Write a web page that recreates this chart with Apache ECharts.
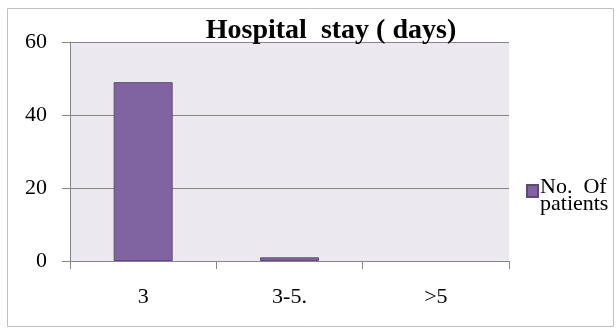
<!DOCTYPE html>
<html>
<head>
<meta charset="utf-8">
<script src="https://cdn.jsdelivr.net/npm/echarts@6/dist/echarts.min.js"></script>
<style>
  html, body { margin: 0; padding: 0; background: #fff; }
  #chart { width: 616px; height: 329px; }
</style>
</head>
<body>
<div id="chart"></div>
<script>
// Length of hospital stay, grouped in days
var categories = ['3', '3-5.', '>5'];
var patients = [49, 1, 0];
var seriesName = 'No. Of patients';
var yTicks = [0, 20, 40, 60];

var chart = echarts.init(document.getElementById('chart'), null, { renderer: 'canvas' });
var serif = '"Liberation Serif", "DejaVu Serif", serif';

// empty categories get no outline so nothing is drawn for them
var barData = patients.map(function (v) {
  return { value: v, itemStyle: v === 0 ? { borderWidth: 0 } : {} };
});

chart.setOption({
  backgroundColor: '#ffffff',
  animation: false,
  title: {
    text: 'Hospital  stay ( days)',
    left: 326,
    textAlign: 'center',
    top: 12,
    textStyle: { fontFamily: serif, fontWeight: 'bold', fontSize: 28, color: '#000' }
  },
  graphic: [{
    type: 'rect',
    shape: { x: 7.5, y: 8.5, width: 606, height: 318 },
    style: { fill: null, stroke: '#bfbfbf', lineWidth: 1 },
    silent: true,
    z: -1
  }],
  legend: {
    left: 521,
    top: 171,
    orient: 'vertical',
    itemWidth: 11,
    itemHeight: 12,
    itemGap: 4,
    icon: 'rect',
    // first line sits level with the swatch, second line hangs below it
    formatter: function () { return '{a|No.  Of}\n{b|patients}'; },
    textStyle: {
      fontFamily: serif, fontSize: 22, color: '#000', padding: [0, 0, 0, -3],
      rich: {
        a: { fontFamily: serif, fontSize: 22, color: '#000', lineHeight: 27 },
        b: { fontFamily: serif, fontSize: 22, color: '#000', lineHeight: 8 }
      }
    },
    data: [seriesName]
  },
  grid: { left: 70, top: 42, right: 107, bottom: 68, show: true, backgroundColor: '#ebe9ef', borderWidth: 0 },
  xAxis: {
    type: 'category',
    data: categories,
    axisLine: { lineStyle: { color: '#868686', width: 1 } },
    axisTick: { show: true, length: 8, alignWithLabel: false, lineStyle: { color: '#868686' } },
    axisLabel: { fontFamily: serif, fontSize: 22, color: '#000', margin: 25 }
  },
  yAxis: {
    type: 'value',
    min: yTicks[0],
    max: yTicks[yTicks.length - 1],
    interval: 20,
    axisLine: { show: true, lineStyle: { color: '#868686', width: 1 } },
    axisTick: { show: true, length: 8, lineStyle: { color: '#868686' } },
    axisLabel: { fontFamily: serif, fontSize: 22, color: '#000', margin: 23 },
    splitLine: { lineStyle: { color: '#868686', width: 1 } }
  },
  series: [{
    name: seriesName,
    type: 'bar',
    data: barData,
    barWidth: 59,
    itemStyle: { color: '#8064a2', borderColor: '#5e4a7a', borderWidth: 1 }
  }]
});
</script>
</body>
</html>
